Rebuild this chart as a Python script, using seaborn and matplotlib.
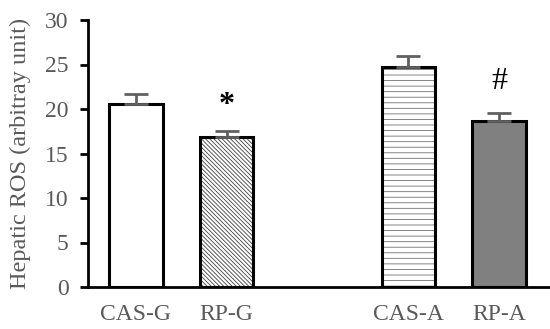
import matplotlib
matplotlib.use("Agg")
import matplotlib.pyplot as plt
import seaborn as sns
import pandas as pd
import numpy as np

groups = ["CAS-G", "RP-G", "CAS-A", "RP-A"]
values = [20.6, 16.9, 24.7, 18.6]
errors = [1.1, 0.6, 1.2, 1.0]
marks = ["", "*", "", "#"]
mark_y = [0, 20.4, 0, 23.1]
order = ["CAS-G", "RP-G", " ", "CAS-A", "RP-A"]

sns.set_style("white")
plt.rcParams["font.family"] = ["Liberation Serif", "DejaVu Serif"]
plt.rcParams["hatch.linewidth"] = 0.6

df = pd.DataFrame({"group": groups, "value": values})
fig = plt.figure(figsize=(5.5, 3.29), dpi=100)
ax = fig.add_axes([88/550, 1 - 287/329, 1 - 88/550, (287 - 20)/329])

sns.barplot(data=df, x="group", y="value", order=order, ax=ax, width=0.59,
            edgecolor="black", linewidth=2.2, errorbar=None)

fills = ["white", "white", "white", "#808080"]
hatches = [None, "\\\\\\\\\\\\\\\\", "---", None]
hatch_cols = ["black", "#404040", "#707070", "black"]
for patch, fc, h, hc in zip(ax.patches, fills, hatches, hatch_cols):
    patch.set_facecolor(fc)
    if h:
        patch.set_hatch(h)
        patch._hatch_color = matplotlib.colors.to_rgba(hc)

pos = [order.index(g) for g in groups]
ax.errorbar(pos, values, yerr=[np.zeros(len(errors)), errors], fmt="none",
            ecolor="#606060", elinewidth=2, capsize=8.5, capthick=2)
for p, my, m in zip(pos, mark_y, marks):
    if m:
        ax.text(p, my, m, ha="center", va="center", fontsize=23,
                color="black", fontweight="bold" if m == "*" else "normal")

ax.set_ylim(0, 30)
ax.set_xlim(-0.527, 4.56)
ax.set_yticks(range(0, 31, 5))
ax.set_xlabel("")
ax.set_ylabel("Hepatic ROS (arbitray unit)", fontsize=17.5, color="#595959",
              labelpad=10)
ax.tick_params(axis="y", direction="out", length=6, width=2, color="black",
               labelsize=17, labelcolor="#595959", left=True, pad=8)
ax.tick_params(axis="x", length=0, labelsize=17, labelcolor="#595959", pad=12)
for s in ["top", "right"]:
    ax.spines[s].set_visible(False)
for s in ["left", "bottom"]:
    ax.spines[s].set_linewidth(2)
    ax.spines[s].set_color("black")

fig.savefig("out.png", dpi=100)
